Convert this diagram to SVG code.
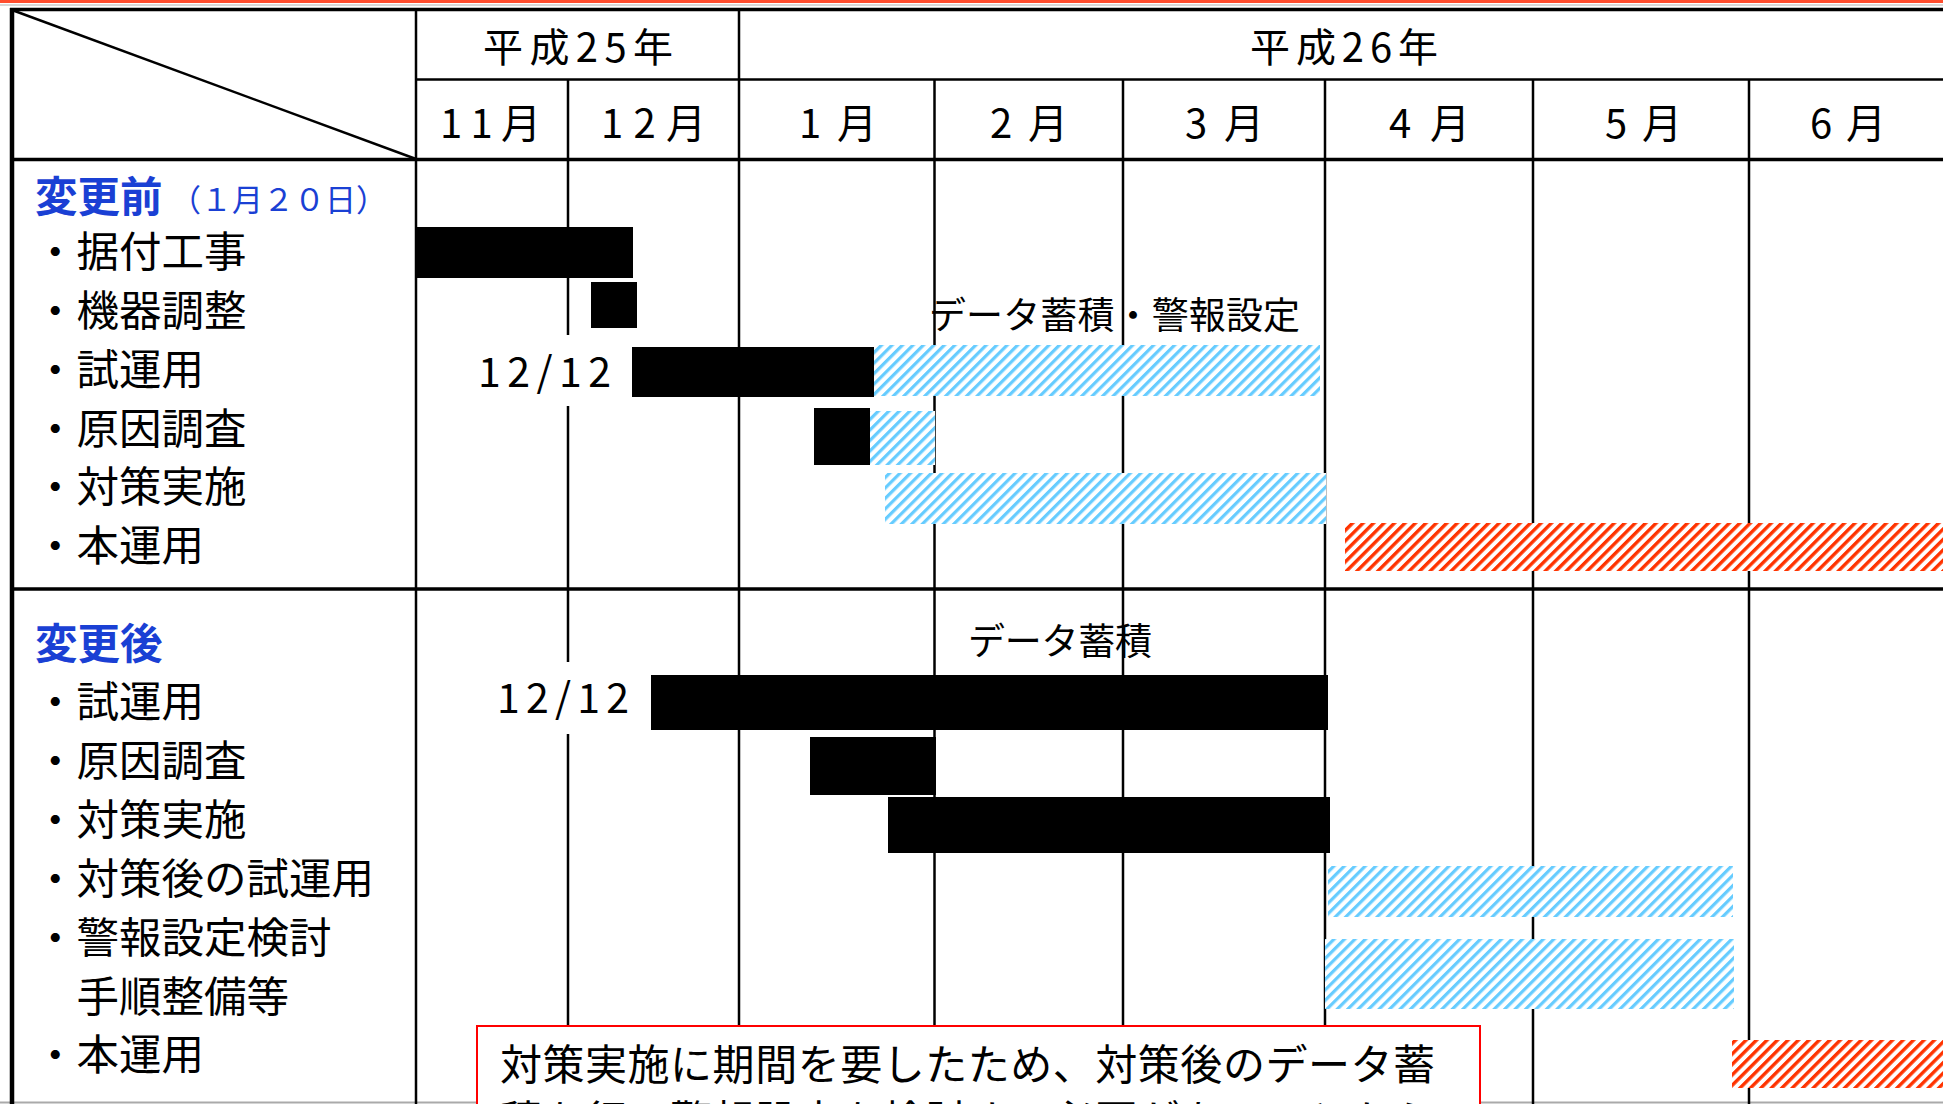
<svg xmlns="http://www.w3.org/2000/svg" width="1943" height="1104" viewBox="0 0 1943 1104">
  <style>
    text { font-family: "Noto Sans CJK JP", "Noto Sans", sans-serif; fill: #000; }
    .hdr { font-size: 40px; }
    .lbl { font-size: 42.5px; }
    .sec { font-size: 42.5px; font-weight: bold; fill: #1a40d4; }
    .sub { font-size: 31px; fill: #1a40d4; }
    .note { font-size: 37px; }
    .date { font-size: 41px; }
    .box { font-size: 42px; }
    .grid { stroke: #000; stroke-width: 2.5; fill: none; }
    .thick { stroke: #000; stroke-width: 3.5; fill: none; }
    .bar { fill: #000; }
    .hb { fill: url(#hatchBlue); }
    .hr { fill: url(#hatchRed); }
  </style>
  <defs>
    <pattern id="hatchBlue" patternUnits="userSpaceOnUse" width="7.4" height="7.4" patternTransform="rotate(45)">
      <rect width="7.4" height="7.4" fill="#fff"/>
      <rect width="3.2" height="7.4" fill="#66ccff"/>
    </pattern>
    <pattern id="hatchRed" patternUnits="userSpaceOnUse" width="7.4" height="7.4" patternTransform="rotate(45)">
      <rect width="7.4" height="7.4" fill="#fff"/>
      <rect width="3.4" height="7.4" fill="#ff3300"/>
    </pattern>
  </defs>

  <rect width="1943" height="1104" fill="#fff"/>
  <rect x="0" y="0" width="1943" height="3" fill="#ff4d2e"/>
  <line x1="0" y1="5" x2="1943" y2="5" stroke="#b0b0b0" stroke-width="1"/>
  <line x1="0" y1="1102.5" x2="1943" y2="1102.5" stroke="#aaaaaa" stroke-width="2"/>

  <g id="grid">
    <line class="grid" x1="568" y1="79.5" x2="568" y2="1104"/>
    <line class="grid" x1="739" y1="9.5" x2="739" y2="1104"/>
    <line class="grid" x1="934.5" y1="79.5" x2="934.5" y2="1104"/>
    <line class="grid" x1="1123" y1="79.5" x2="1123" y2="1104"/>
    <line class="grid" x1="1325" y1="79.5" x2="1325" y2="1104"/>
    <line class="grid" x1="1533" y1="79.5" x2="1533" y2="1104"/>
    <line class="grid" x1="1749" y1="79.5" x2="1749" y2="1104"/>
    <line class="grid" x1="416" y1="9.5" x2="416" y2="1104"/>
    <line class="grid" x1="416" y1="79.5" x2="1943" y2="79.5"/>
    <line class="thick" x1="10" y1="159.5" x2="1943" y2="159.5"/>
    <line class="thick" x1="10" y1="589" x2="1943" y2="589"/>
    <line class="thick" x1="10" y1="9.5" x2="1943" y2="9.5"/>
    <line x1="12" y1="8" x2="12" y2="1104" stroke="#000" stroke-width="4.5"/>
    <line x1="12" y1="10" x2="416" y2="159" stroke="#000" stroke-width="2.5"/>
  </g>

  <g id="header">
    <text class="hdr" x="483" y="62" textLength="190" lengthAdjust="spacing">平成25年</text>
    <text class="hdr" x="1250" y="62" textLength="188" lengthAdjust="spacing">平成26年</text>
    <text class="hdr" x="440" y="138" textLength="101" lengthAdjust="spacing">11月</text>
    <text class="hdr" x="601" y="138" textLength="105" lengthAdjust="spacing">12月</text>
    <text class="hdr" x="799" y="138" textLength="78" lengthAdjust="spacing">1月</text>
    <text class="hdr" x="990" y="138" textLength="78" lengthAdjust="spacing">2月</text>
    <text class="hdr" x="1185" y="138" textLength="79" lengthAdjust="spacing">3月</text>
    <text class="hdr" x="1389" y="138" textLength="81" lengthAdjust="spacing">4月</text>
    <text class="hdr" x="1605" y="138" textLength="77" lengthAdjust="spacing">5月</text>
    <text class="hdr" x="1810" y="138" textLength="76" lengthAdjust="spacing">6月</text>
  </g>

  <g id="before-labels">
    <text class="sec" x="35" y="212">変更前</text>
    <text class="sub" x="170" y="211">（１月２０日）</text>
    <text class="lbl" x="34" y="267">・据付工事</text>
    <text class="lbl" x="34" y="326">・機器調整</text>
    <text class="lbl" x="34" y="385">・試運用</text>
    <text class="lbl" x="34" y="443.5">・原因調査</text>
    <text class="lbl" x="34" y="502">・対策実施</text>
    <text class="lbl" x="34" y="561">・本運用</text>
  </g>

  <g id="before-bars">
    <rect class="bar" x="416" y="227" width="217" height="51"/>
    <rect class="bar" x="591" y="282" width="46" height="46"/>
    <rect x="476" y="335" width="140" height="71" fill="#fff"/>
    <text class="date" x="478" y="387" textLength="133" lengthAdjust="spacing">12/12</text>
    <rect class="bar" x="632" y="347" width="242" height="50"/>
    <rect class="hb" x="874" y="345" width="446" height="51"/>
    <text class="note" x="929" y="329" textLength="371" lengthAdjust="spacing">データ蓄積・警報設定</text>
    <rect class="bar" x="814" y="408" width="56" height="57"/>
    <rect class="hb" x="870" y="411" width="65" height="54"/>
    <rect class="hb" x="885" y="473" width="441" height="51"/>
    <rect class="hr" x="1345" y="523" width="598" height="48"/>
  </g>

  <g id="after-labels">
    <text class="sec" x="35" y="659">変更後</text>
    <text class="lbl" x="34" y="717">・試運用</text>
    <text class="lbl" x="34" y="776">・原因調査</text>
    <text class="lbl" x="34" y="835">・対策実施</text>
    <text class="lbl" x="34" y="894">・対策後の試運用</text>
    <text class="lbl" x="34" y="953">・警報設定検討</text>
    <text class="lbl" x="76.5" y="1012">手順整備等</text>
    <text class="lbl" x="34" y="1070">・本運用</text>
  </g>

  <g id="after-bars">
    <rect x="494" y="662" width="140" height="72" fill="#fff"/>
    <text class="date" x="497" y="713" textLength="132" lengthAdjust="spacing">12/12</text>
    <text class="note" x="968" y="655" textLength="184" lengthAdjust="spacing">データ蓄積</text>
    <rect class="bar" x="651" y="675" width="677" height="55"/>
    <rect class="bar" x="810" y="737" width="126" height="58"/>
    <rect class="bar" x="888" y="797" width="442" height="56"/>
    <rect class="hb" x="1328" y="866" width="405" height="51"/>
    <rect class="hb" x="1325" y="939" width="409" height="70"/>
    <rect class="hr" x="1732" y="1040" width="211" height="48"/>
  </g>

  <g id="note-box">
    <rect x="477" y="1026" width="1003" height="200" fill="#fff" stroke="#ff0000" stroke-width="2"/>
    <text class="box" x="500" y="1080" textLength="935" lengthAdjust="spacing">対策実施に期間を要したため、対策後のデータ蓄</text>
    <text class="box" x="500" y="1136" textLength="935" lengthAdjust="spacing">積を行い警報設定を検討する必要があることから</text>
  </g>
</svg>
